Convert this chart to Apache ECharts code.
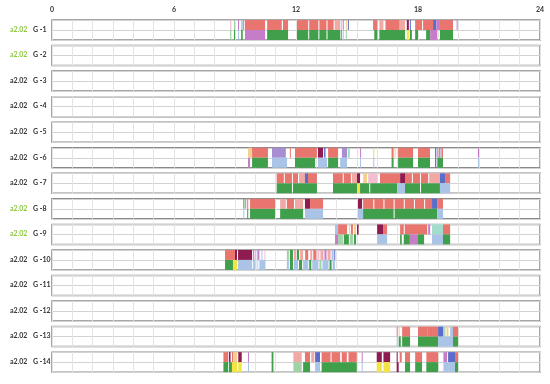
<!DOCTYPE html>
<html><head><meta charset="utf-8">
<script src="https://cdn.jsdelivr.net/npm/echarts@6/dist/echarts.min.js"></script>
<style>html,body{margin:0;padding:0;background:#fff}#c{width:550px;height:384px}</style>
</head><body><div id="c"></div>
<script>
// ---- data ----
const xTickLabels = ['0', '6', '12', '18', '24'];
const rowNames = ['G -1','G -2','G -3','G -4','G -5','G -6','G -7','G -8','G -9','G -10','G -11','G -12','G -13','G -14'];
const rowTag = 'a2.02';
const tagHighlighted = [true, true, false, false, false, false, false, true, true, false, false, false, false, false];

// segments: [startHour, endHour, colourKey]
const g1Top = [[8.76,8.82,'k'],[8.95,9.0,'gl'],[9.15,9.2,'p'],[9.3,9.38,'b'],[9.4,9.45,'p'],
  [9.49,10.48,'r'],[10.58,11.3,'r'],[11.36,11.61,'r'],[12.05,12.6,'r'],[12.65,13.1,'r'],[13.15,13.5,'r'],[13.55,13.85,'r'],[13.9,14.17,'rl'],
  [14.2,14.25,'b'],[14.3,14.35,'p'],[14.45,14.5,'o'],[14.55,14.6,'d'],
  [15.79,16.0,'r'],[16.1,16.3,'rl'],[16.4,17.1,'r'],[17.1,17.36,'rl'],[17.45,17.55,'m'],[17.6,17.65,'d'],
  [17.86,18.2,'r'],[18.25,18.74,'r'],[18.74,18.9,'d'],[18.9,19.08,'p'],[19.08,19.72,'r'],[19.9,19.95,'p']];
const g1Bot = [[8.76,8.82,'gl'],[8.95,9.0,'g'],[9.15,9.2,'b'],[9.3,9.38,'g'],[9.49,10.48,'p'],[10.58,11.61,'g'],
  [12.05,12.6,'g'],[12.65,13.1,'g'],[13.15,13.5,'g'],[13.55,14.17,'g'],[14.2,14.25,'g'],[14.3,14.35,'b'],[14.45,14.5,'gl'],
  [15.85,16.0,'g'],[16.1,17.36,'g'],[17.45,17.55,'y'],[17.6,17.7,'g'],[17.86,18.0,'g'],[18.4,18.6,'g'],[18.6,18.95,'p'],[19.08,19.72,'g']];

const g6Top = [[9.64,9.84,'o'],[9.84,10.62,'r'],[10.82,11.5,'v'],[11.7,11.75,'r'],[11.95,13.03,'r'],[13.08,13.33,'m'],[13.38,13.45,'d'],
  [13.58,14.07,'r'],[14.26,14.51,'v'],[14.55,14.65,'t'],[15.15,15.2,'p'],[15.8,15.85,'o'],[16.7,16.8,'r'],[16.85,16.9,'o'],
  [17.02,17.76,'r'],[18.0,18.59,'r'],[18.84,18.9,'d'],[18.95,19.0,'r'],[19.05,19.1,'d'],[19.15,19.23,'r'],[20.95,21.0,'p']];
const g6Bot = [[9.64,9.74,'p'],[9.84,10.62,'g'],[10.82,11.56,'b'],[11.95,12.94,'g'],[13.08,13.53,'b'],[13.58,14.07,'g'],[14.17,14.51,'b'],
  [15.15,15.2,'b'],[15.8,15.85,'b'],[16.7,16.8,'g'],[17.02,17.76,'g'],[18.0,18.59,'g'],[18.84,18.9,'d'],[18.95,19.23,'g'],[20.95,21.0,'b']];

const g7Top = [[11.05,11.4,'r'],[11.45,11.8,'r'],[11.85,12.1,'r'],[12.15,12.44,'rl'],[12.44,12.59,'d'],[12.59,13.03,'r'],
  [13.82,14.3,'r'],[14.35,14.7,'r'],[14.75,15.0,'rl'],[15.0,15.15,'m'],[15.3,15.49,'o'],[15.55,16.0,'k'],
  [16.13,17.12,'r'],[17.12,17.36,'m'],[17.36,17.7,'r'],[17.75,18.1,'r'],[18.15,18.5,'r'],[18.55,19.08,'rl'],[19.08,19.33,'d'],[19.33,19.58,'r']];
const g7Bot = [[11.05,11.8,'g'],[11.85,13.03,'g'],[13.82,15.0,'g'],[15.0,15.15,'y'],[15.15,15.6,'g'],[15.65,16.97,'g'],[16.97,17.36,'b'],
  [17.36,18.1,'g'],[18.15,19.08,'g'],[19.08,19.58,'b']];

const g8Top = [[9.41,9.45,'g'],[9.5,9.55,'p'],[9.6,9.65,'r'],[9.74,10.97,'r'],[11.22,11.5,'rl'],[11.55,11.9,'r'],[11.95,12.35,'rl'],
  [12.44,12.69,'m'],[12.69,13.33,'r'],[15.05,15.25,'m'],[15.3,15.8,'r'],[15.85,16.3,'r'],[16.35,16.8,'r'],[16.85,17.3,'r'],
  [17.35,17.8,'r'],[17.85,18.3,'r'],[18.35,18.69,'r'],[18.69,18.94,'d'],[18.94,19.23,'r']];
const g8Bot = [[9.41,9.45,'b'],[9.6,9.65,'g'],[9.74,10.97,'g'],[11.22,12.35,'g'],[12.44,13.33,'b'],[15.05,15.3,'b'],
  [15.3,16.8,'g'],[16.85,18.94,'g'],[18.94,19.23,'b']];

const g9Top = [[13.92,14.07,'b'],[14.07,14.51,'r'],[14.6,14.65,'o'],[14.7,14.8,'r'],[14.85,14.95,'o'],[15.0,15.08,'m'],
  [15.99,16.28,'m'],[16.28,16.48,'r'],[17.12,17.3,'r'],[17.35,18.45,'r'],[18.5,18.6,'p'],[18.69,19.23,'t'],[19.23,19.58,'r']];
const g9Bot = [[13.92,14.07,'p'],[14.07,14.3,'gl'],[14.35,14.6,'g'],[14.65,14.8,'gl'],[14.85,14.95,'g'],[15.99,16.48,'b'],
  [17.12,17.2,'g'],[17.3,17.6,'g'],[17.6,18.0,'p'],[18.0,18.3,'g'],[18.69,19.23,'b'],[19.23,19.58,'g']];

const g10Top = [[8.51,9.0,'r'],[9.0,9.1,'m'],[9.15,9.84,'m'],[9.89,9.95,'p'],[10.0,10.05,'b'],[10.1,10.2,'p'],[10.3,10.35,'b'],[10.45,10.5,'k'],
  [11.55,11.65,'gl'],[11.7,11.85,'g'],[11.9,12.0,'rl'],[12.05,12.15,'g'],[12.2,12.35,'rl'],[12.45,12.6,'r'],[12.7,12.8,'rl'],
  [12.85,13.0,'r'],[13.05,13.15,'k'],[13.2,13.35,'rl'],[13.4,13.5,'p'],[13.55,13.7,'rl'],[13.75,13.85,'b'],[13.88,13.92,'d']];
const g10Bot = [[8.51,8.9,'g'],[8.9,9.1,'y'],[9.15,9.84,'b'],[9.89,10.0,'b'],[10.05,10.15,'bl'],[10.2,10.5,'b'],
  [11.55,11.65,'b'],[11.7,11.85,'g'],[11.9,12.1,'b'],[12.15,12.3,'g'],[12.35,12.6,'b'],[12.65,12.75,'g'],[12.8,13.1,'b'],
  [13.15,13.25,'gl'],[13.3,13.6,'b'],[13.65,13.75,'g'],[13.8,13.92,'b']];

const g13Top = [[16.95,17.0,'p'],[17.05,17.1,'o'],[17.22,17.61,'r'],[18.0,18.45,'r'],[18.45,18.69,'r'],[18.69,18.99,'r'],
  [18.99,19.23,'d'],[19.23,19.35,'t'],[19.4,19.5,'o'],[19.58,19.72,'b'],[19.72,19.97,'r']];
const g13Bot = [[16.95,17.0,'b'],[17.05,17.15,'g'],[17.22,17.61,'g'],[18.0,18.99,'g'],[18.99,19.72,'b'],[19.72,19.97,'g']];

const g14Top = [[8.43,8.66,'r'],[8.7,8.78,'m'],[8.85,8.92,'r'],[8.95,9.1,'o'],[9.16,9.33,'m'],[9.64,9.69,'p'],[10.8,10.89,'g'],
  [11.87,12.28,'rl'],[12.44,12.69,'r'],[12.75,12.9,'rl'],[12.94,13.18,'d'],[13.26,13.7,'r'],[13.75,14.17,'r'],[14.25,14.5,'r'],
  [14.58,14.99,'r'],[15.23,15.27,'p'],[15.97,16.22,'m'],[16.3,16.63,'m'],[16.95,17.0,'m'],[17.1,17.2,'r'],[17.36,17.61,'r'],
  [17.86,18.2,'r'],[18.41,18.99,'r'],[19.25,19.43,'p'],[19.48,19.82,'d'],[19.82,19.97,'r']];
const g14Bot = [[8.43,8.66,'g'],[8.7,8.85,'g'],[8.85,9.1,'y'],[9.16,9.33,'y'],[9.64,9.69,'b'],[10.8,10.89,'g'],[11.87,12.28,'gl'],
  [12.35,12.69,'g'],[12.94,13.18,'b'],[13.26,14.99,'g'],[15.23,15.27,'b'],[15.97,16.22,'y'],[16.3,16.63,'y'],[16.95,17.05,'m'],
  [17.36,17.61,'g'],[17.86,18.2,'g'],[18.41,18.99,'g'],[19.25,19.48,'b'],[19.48,19.82,'b'],[19.82,19.97,'g']];

const rowsTop = [g1Top, [], [], [], [], g6Top, g7Top, g8Top, g9Top, g10Top, [], [], g13Top, g14Top];
const rowsBot = [g1Bot, [], [], [], [], g6Bot, g7Bot, g8Bot, g9Bot, g10Bot, [], [], g13Bot, g14Bot];

// ---- styling ----
const palette = {
  r:'#e8766f', rl:'#f1a9a5', g:'#3f9f4b', gl:'#9fd2a5', b:'#a9c4e6', bl:'#d2e0f3', d:'#5c6cc9',
  p:'#c57dc8', v:'#a98dd2', m:'#8e1c50', y:'#f3e445', o:'#f5d08c', t:'#a4dccb', k:'#f2bfd2'
};
const FONT = 'Lato, "Open Sans", sans-serif';
const gridLeft = 52, gridRight = 10, firstTop = 20, pitch = 25.55, boxH = 20;

const grids = [], xAxes = [], yAxes = [], series = [], graphics = [];
rowNames.forEach((name, i) => {
  const top = firstTop + i * pitch;
  grids.push({left: gridLeft, right: gridRight, top: top, height: boxH, show: true,
    borderColor: '#8a8a8a', borderWidth: 1.5, backgroundColor: 'transparent'});
  xAxes.push({type: 'value', gridIndex: i, min: 0, max: 24, interval: 1,
    position: 'top',
    axisLine: {show: false}, axisTick: {show: false},
    axisLabel: {show: i === 0, fontSize: 7, fontWeight: 'bold', color: '#333', fontFamily: FONT, margin: 7,
      formatter: v => (v % 6 === 0 ? xTickLabels[v / 6] : '')},
    splitLine: {show: true, lineStyle: {color: '#e3e3e3', width: 1}}});
  yAxes.push({type: 'value', gridIndex: i, min: 0, max: 2, interval: 1,
    axisLine: {show: false}, axisTick: {show: false}, axisLabel: {show: false},
    splitLine: {show: true, lineStyle: {color: '#d2d2d2', width: 1}}});
  const data = [];
  rowsTop[i].forEach(s => data.push({value: [s[0], s[1], 1], itemStyle: {color: palette[s[2]]}}));
  rowsBot[i].forEach(s => data.push({value: [s[0], s[1], 0], itemStyle: {color: palette[s[2]]}}));
  series.push({type: 'custom', xAxisIndex: i, yAxisIndex: i, encode: {x: [0, 1], y: 2}, silent: true,
    renderItem: (params, api) => {
      const s = api.value(0), e = api.value(1), lane = api.value(2);
      const p1 = api.coord([s, lane + 1]);
      const p2 = api.coord([e, lane]);
      return {type: 'rect', shape: {x: p1[0], y: p1[1], width: Math.max(p2[0] - p1[0], 1), height: p2[1] - p1[1]},
        style: {fill: api.visual('color')}};
    },
    data: data});
  graphics.push({type: 'text', left: 10, top: top + boxH / 2 - 4,
    style: {text: rowTag, fontSize: 7, fontWeight: 'bold', fontFamily: FONT, fill: tagHighlighted[i] ? '#8cc63f' : '#333'}});
  graphics.push({type: 'text', left: 33, top: top + boxH / 2 - 4,
    style: {text: name, fontSize: 7, fontWeight: 'bold', fontFamily: FONT, fill: '#333'}});
});

const chart = echarts.init(document.getElementById('c'), null, {renderer: 'canvas'});
chart.setOption({animation: false, backgroundColor: '#fff', grid: grids, xAxis: xAxes, yAxis: yAxes, series: series, graphic: graphics});
</script></body></html>
